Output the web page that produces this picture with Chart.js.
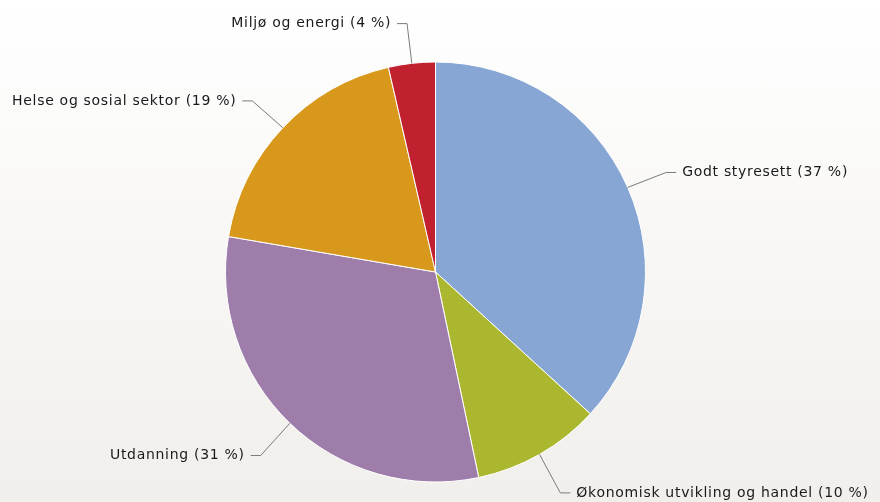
<!DOCTYPE html>
<html>
<head>
<meta charset="utf-8">
<script src="https://cdn.jsdelivr.net/npm/chart.js@4"></script>
<style>
    html, body { margin: 0; padding: 0; }
    #wrap {
        width: 880px;
        height: 502px;
        position: relative;
        background: linear-gradient(to bottom, #ffffff 0%, #f1efeb 100%);
    }
</style>
</head>
<body>
<div id="wrap"><canvas id="chart"></canvas></div>
<script>
// Sektorer og andeler (prosent)
const sektorer = ['Godt styresett', 'Økonomisk utvikling og handel', 'Utdanning', 'Helse og sosial sektor', 'Miljø og energi'];
const andeler = [36.8, 9.9, 31.0, 18.7, 3.6];
const farger = ['#87a6d4', '#abb72f', '#9e7dab', '#d7981c', '#c1202e'];

// Etiketter med forbindelseslinjer
const etikettPlugin = {
    id: 'etiketter',
    afterDatasetsDraw(chart) {
        const ctx = chart.ctx;
        const meta = chart.getDatasetMeta(0);
        ctx.save();
        ctx.font = '14px "DejaVu Sans"';
        ctx.letterSpacing = '0.7px';
        ctx.textBaseline = 'middle';
        meta.data.forEach((arc, i) => {
            const mid = (arc.startAngle + arc.endAngle) / 2;
            const r = arc.outerRadius;
            const cx = arc.x, cy = arc.y;
            const x0 = cx + Math.cos(mid) * r;
            const y0 = cy + Math.sin(mid) * r;
            const x1 = cx + Math.cos(mid) * (r + 42);
            const y1 = cy + Math.sin(mid) * (r + 42) + 2;
            const hoyre = Math.cos(mid) >= 0;
            const x2 = x1 + (hoyre ? 10 : -10);
            ctx.strokeStyle = '#7a7a7a';
            ctx.lineWidth = 1;
            ctx.beginPath();
            ctx.moveTo(x0, y0);
            ctx.lineTo(x1, y1);
            ctx.lineTo(x2, y1);
            ctx.stroke();
            ctx.fillStyle = '#1a1a1a';
            ctx.textAlign = hoyre ? 'left' : 'right';
            const tekst = sektorer[i] + ' (' + Math.round(andeler[i]) + ' %)';
            ctx.fillText(tekst, x2 + (hoyre ? 6 : -6), y1);
        });
        ctx.restore();
    }
};

const ctx = document.getElementById('chart').getContext('2d');
new Chart(ctx, {
    type: 'pie',
    data: {
        labels: sektorer,
        datasets: [{
            data: andeler,
            backgroundColor: farger,
            borderColor: '#ffffff',
            borderWidth: 1
        }]
    },
    options: {
        responsive: true,
        maintainAspectRatio: false,
        animation: false,
        layout: {
            padding: { left: 225, right: 234, top: 61, bottom: 19 }
        },
        plugins: {
            legend: { display: false },
            tooltip: { enabled: false }
        }
    },
    plugins: [etikettPlugin]
});
</script>
</body>
</html>
